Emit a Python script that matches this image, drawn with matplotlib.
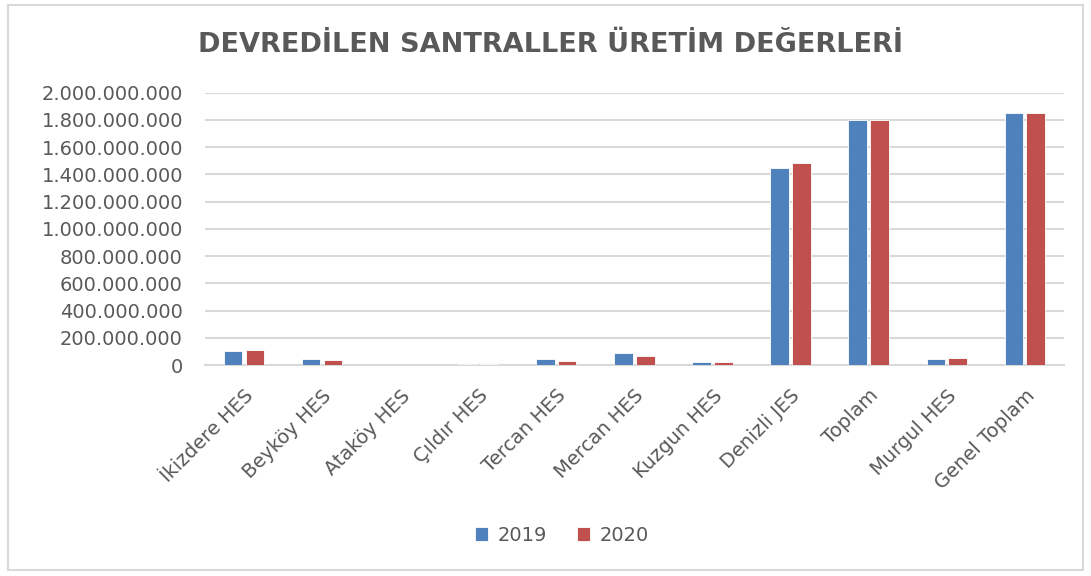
import matplotlib.pyplot as plt
import numpy as np
from matplotlib.ticker import FuncFormatter
from matplotlib.patches import Rectangle

# Data
santraller = ['İkizdere HES', 'Beyköy HES', 'Ataköy HES', 'Çıldır HES', 'Tercan HES',
              'Mercan HES', 'Kuzgun HES', 'Denizli JES', 'Toplam', 'Murgul HES', 'Genel Toplam']
uretim_2019 = [103e6, 46e6, 0, 10e6, 46e6, 93e6, 20e6, 1445e6, 1802e6, 44e6, 1849e6]
uretim_2020 = [112e6, 37e6, 0, 10e6, 30e6, 68e6, 20e6, 1484e6, 1802e6, 54e6, 1849e6]
yticks = np.arange(0, 2.0e9 + 1, 2.0e8)

blue = '#4F81BD'
red = '#C0504D'
textc = '#595959'

fig = plt.figure(figsize=(10.91, 5.76), dpi=100)
ax = fig.add_axes([0.188, 0.366, 0.787, 0.473])

x = np.arange(len(santraller))
w = 0.235
ax.bar(x - 0.14, uretim_2019, w, color=blue, edgecolor='white', linewidth=0.6, label='2019', zorder=3)
ax.bar(x + 0.14, uretim_2020, w, color=red, edgecolor='white', linewidth=0.6, label='2020', zorder=3)

ax.set_xlim(-0.5, len(santraller) - 0.5)
ax.set_ylim(0, 2.0e9)
ax.set_yticks(yticks)
ax.yaxis.set_major_formatter(FuncFormatter(lambda v, p: f'{int(v):,}'.replace(',', '.')))
ax.grid(axis='y', color='#D9D9D9', linewidth=1.5, zorder=0)
ax.set_axisbelow(True)
for s in ['left', 'right', 'top']:
    ax.spines[s].set_visible(False)
ax.spines['bottom'].set_color('#D9D9D9')
ax.spines['bottom'].set_linewidth(1.5)
ax.tick_params(length=0, labelsize=14, colors=textc)
ax.tick_params(axis='y', pad=16)
ax.set_xticks(x)
ax.set_xticklabels(santraller, rotation=45, ha='right', rotation_mode='anchor')
ax.tick_params(axis='x', pad=15, labelsize=14)

fig.text(0.505, 0.922, 'DEVREDİLEN SANTRALLER ÜRETİM DEĞERLERİ', ha='center', va='center',
         fontsize=19.5, fontweight='bold', color=textc)

fig.legend(loc='center', bbox_to_anchor=(0.515, 0.071), ncol=2, frameon=False,
           fontsize=14, labelcolor=textc, handlelength=0.7, handleheight=0.7,
           columnspacing=1.5, handletextpad=0.5)

fig.patches.append(Rectangle((0.007, 0.01), 0.986, 0.982, transform=fig.transFigure,
                             fill=False, edgecolor='#D9D9D9', linewidth=1.5))

fig.savefig('out.png', dpi=100)
